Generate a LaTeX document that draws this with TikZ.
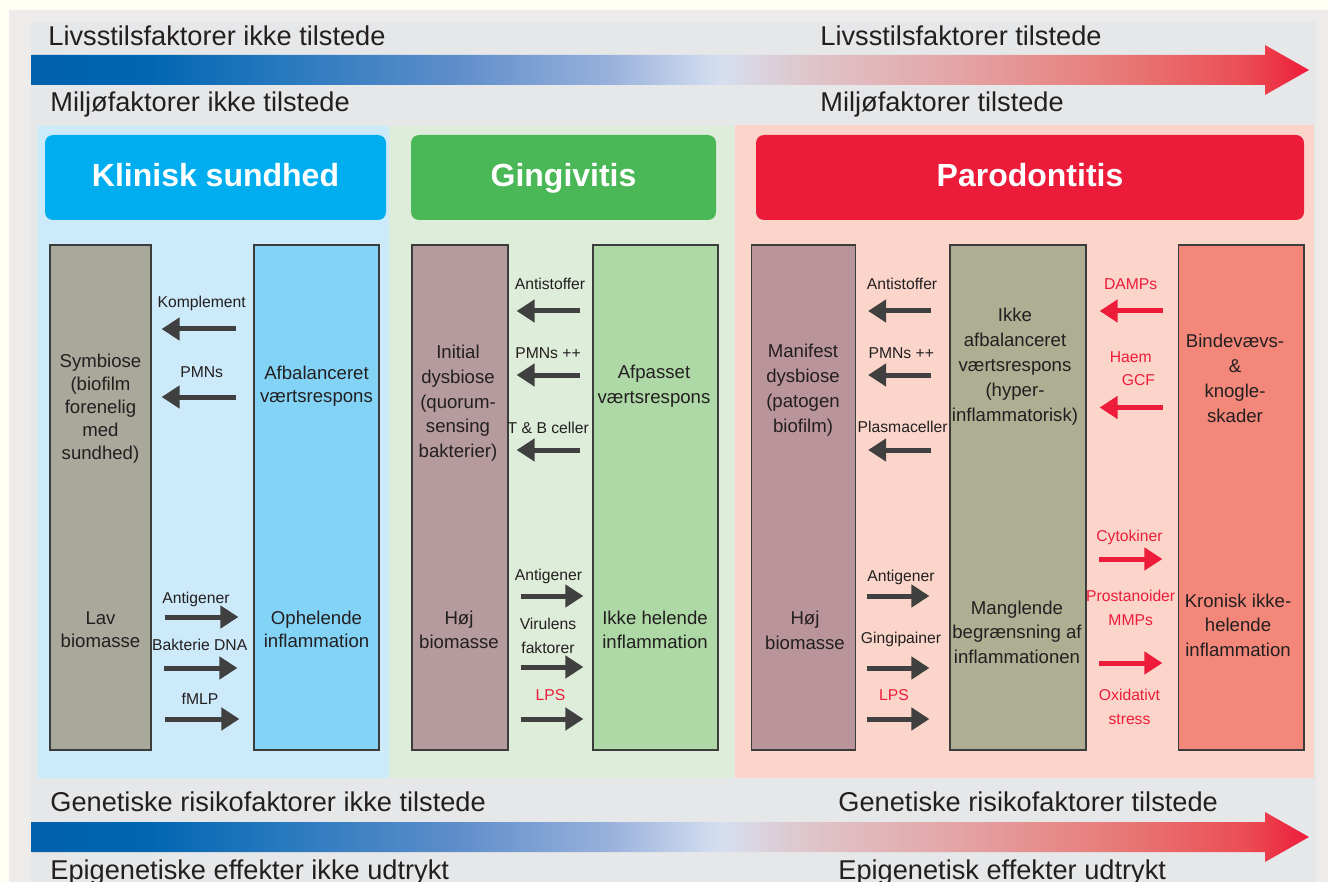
\documentclass[tikz,border=0pt]{standalone}
\usepackage{fontspec}
\setmainfont{Liberation Sans}
\usepackage{tikz}
\usetikzlibrary{arrows.meta}

\definecolor{cream}{HTML}{FFFEF4}
\definecolor{framegray}{HTML}{EEEBEB}
\definecolor{bggray}{HTML}{E6E7E9}
\definecolor{txtdark}{HTML}{231F20}
\definecolor{arrgray}{HTML}{404040}
\definecolor{redtxt}{HTML}{ED1C3A}
\definecolor{boxline}{HTML}{3C3C3C}
\definecolor{klpanel}{HTML}{CCEAF9}
\definecolor{gipanel}{HTML}{DEEDDA}
\definecolor{papanel}{HTML}{FBD5CA}
\definecolor{klhead}{HTML}{00AEEF}
\definecolor{gihead}{HTML}{4BB857}
\definecolor{pahead}{HTML}{ED1B3A}
\definecolor{klleft}{HTML}{A8A89B}
\definecolor{klright}{HTML}{83D3F7}
\definecolor{gileft}{HTML}{B59B9D}
\definecolor{giright}{HTML}{AED8A6}
\definecolor{paleft}{HTML}{BA949B}
\definecolor{pamid}{HTML}{AEAE93}
\definecolor{paright}{HTML}{F3887A}
% colours of the risk bars
\definecolor{sh0}{HTML}{0061AD}
\definecolor{sh1}{HTML}{0066B2}
\definecolor{sh2}{HTML}{2D7BBF}
\definecolor{sh3}{HTML}{5D8DCA}
\definecolor{sh4}{HTML}{97B0DB}
\definecolor{sh5}{HTML}{D5DFF0}
\definecolor{sh6}{HTML}{DEC8CE}
\definecolor{sh7}{HTML}{E4A5A6}
\definecolor{sh8}{HTML}{E77E7C}
\definecolor{sh9}{HTML}{EB4D53}
\definecolor{sh10}{HTML}{ED1C3A}

\pgfdeclarehorizontalshading{riskbar}{100bp}{color(0bp)=(sh0); color(25bp)=(sh0);
  color(29.5bp)=(sh1); color(35.5bp)=(sh2); color(41.5bp)=(sh3); color(47.5bp)=(sh4);
  color(52bp)=(sh5); color(55bp)=(sh6); color(61bp)=(sh7); color(67bp)=(sh8);
  color(72.5bp)=(sh9); color(75bp)=(sh10); color(100bp)=(sh10)}

\tikzset{
	big_txt/.style = {inner sep=0pt, anchor=base west, text=txtdark,
		font=\fontsize{13.6}{16}\selectfont},
	hdr/.style = {rounded corners=4pt, inner sep=0pt, text=white,
		font=\fontsize{16}{19}\selectfont\bfseries, text height=9.5pt, text depth=0pt},
	col_box/.style = {draw=boxline, line width=0.6pt, inner sep=0pt,
		minimum height=252.5pt},
	box_txt/.style = {inner sep=0pt, anchor=base, align=center, text=txtdark,
		font=\fontsize{9.3}{12.4}\selectfont},
	lbl/.style = {inner sep=0pt, anchor=base, align=center, text=txtdark,
		font=\fontsize{7.85}{12}\selectfont},
	red_lbl/.style = {lbl, text=redtxt},
	darr/.style = {draw=arrgray, line width=2.5pt, -{Triangle[length=9pt, width=11pt]}},
	rarr/.style = {darr, draw=redtxt}
}

\begin{document}
\begin{tikzpicture}[x=0.5pt, y=-0.5pt]
\useasboundingbox (0,0) rectangle (1328,882);
\fill[cream] (0,0) rectangle (1328,882);
\fill[framegray] (9,10) rectangle (1328,882);
\fill[bggray] (31,22) rectangle (1316,882);

% risk bars
\shade[shading=riskbar] (31,55) -- (1265,55) -- (1265,45) -- (1309,70)
	-- (1265,95) -- (1265,85) -- (31,85) -- cycle;
\shade[shading=riskbar] (31,822) -- (1265,822) -- (1265,812) -- (1309,837)
	-- (1265,862) -- (1265,852) -- (31,852) -- cycle;

\node[big_txt] (liv0) at (48,46) {Livsstilsfaktorer ikke tilstede};
\node[big_txt] (liv1) at (820,46) {Livsstilsfaktorer tilstede};
\node[big_txt] (mil0) at (50,112) {Miljøfaktorer ikke tilstede};
\node[big_txt] (mil1) at (820,112) {Miljøfaktorer tilstede};
\node[big_txt] (gen0) at (50,811) {Genetiske risikofaktorer ikke tilstede};
\node[big_txt] (gen1) at (838,811) {Genetiske risikofaktorer tilstede};
\node[big_txt] (epi0) at (50,879) {Epigenetiske effekter ikke udtrykt};
\node[big_txt] (epi1) at (838,879) {Epigenetisk effekter udtrykt};

% panels
\fill[klpanel] (38,126) rectangle (389,778);
\fill[gipanel] (389,126) rectangle (734,778);
\fill[papanel] (735,125) rectangle (1314,778);

\node[hdr, fill=klhead, minimum width=170.5pt, minimum height=42.5pt] (kh) at (215.5,177.5) {Klinisk sundhed};
\node[hdr, fill=gihead, minimum width=152.5pt, minimum height=42.5pt] (gh) at (563.5,177.5) {Gingivitis};
\node[hdr, fill=pahead, minimum width=274pt, minimum height=42.5pt] (ph) at (1030,177.5) {Parodontitis};

% Klinisk sundhed (text nodes sit on the baseline of their last line)
\node[col_box, fill=klleft, minimum width=50.5pt] (kl) at (100.5,497.5) {};
\node[col_box, fill=klright, minimum width=62.5pt] (kr) at (316.5,497.5) {};
\node[box_txt, font=\fontsize{9.3}{11.5}\selectfont] (kl_a) at (100.5,459) {Symbiose\\(biofilm\\forenelig\\med\\sundhed)};
\node[box_txt, font=\fontsize{9.3}{11.7}\selectfont] (kr_a) at (316.5,402.4) {Afbalanceret\\værtsrespons};
\node[box_txt, font=\fontsize{9.3}{11.5}\selectfont] (kl_b) at (100.5,647) {Lav\\biomasse};
\node[box_txt, font=\fontsize{9.3}{11.5}\selectfont] (kr_b) at (316.5,647) {Ophelende\\inflammation};

\node[lbl] (k1) at (201.7,307) {Komplement};
\node[lbl] (k2) at (201.7,378) {PMNs};
\node[lbl] (k3) at (196,603) {Antigener};
\node[lbl] (k4) at (199.7,650) {Bakterie DNA};
\node[lbl] (k5) at (200,704) {fMLP};
\draw[darr, shorten <=8.5pt, shorten >=5pt] (kr.west |- 0,329) -- (kl.east |- 0,329);
\draw[darr, shorten <=8.5pt, shorten >=5pt] (kr.west |- 0,397) -- (kl.east |- 0,397);
\draw[darr, shorten <=6.5pt, shorten >=7.5pt] (kl.east |- 0,617) -- (kr.west |- 0,617);
\draw[darr, shorten <=6pt, shorten >=8pt] (kl.east |- 0,668) -- (kr.west |- 0,668);
\draw[darr, shorten <=6.5pt, shorten >=7pt] (kl.east |- 0,719) -- (kr.west |- 0,719);

% Gingivitis
\node[col_box, fill=gileft, minimum width=48pt] (gl) at (460,497.5) {};
\node[col_box, fill=giright, minimum width=62.5pt] (gr) at (655.5,497.5) {};
\node[box_txt] (gl_a) at (458,457.7) {Initial\\dysbiose\\(quorum-\\sensing\\bakterier)};
\node[box_txt] (gr_a) at (654,403.8) {Afpasset\\værtsrespons};
\node[box_txt] (gl_b) at (459,648.8) {Høj\\biomasse};
\node[box_txt] (gr_b) at (655,648.8) {Ikke helende\\inflammation};

\node[lbl] (g1) at (550,290) {Antistoffer};
\node[lbl] (g2) at (548,358.5) {PMNs ++};
\node[lbl] (g3) at (548.3,433) {T \& B celler};
\node[lbl] (g4) at (548.5,580.5) {Antigener};
\node[lbl] (g5) at (548,653.5) {Virulens\\faktorer};
\node[red_lbl] (g6) at (550.5,700) {LPS};
\draw[darr, shorten <=6pt, shorten >=4pt] (gr.west |- 0,311) -- (gl.east |- 0,311);
\draw[darr, shorten <=6pt, shorten >=4pt] (gr.west |- 0,375) -- (gl.east |- 0,375);
\draw[darr, shorten <=6pt, shorten >=4pt] (gr.west |- 0,450) -- (gl.east |- 0,450);
\draw[darr, shorten <=6pt, shorten >=4.5pt] (gl.east |- 0,596) -- (gr.west |- 0,596);
\draw[darr, shorten <=6pt, shorten >=4.5pt] (gl.east |- 0,667) -- (gr.west |- 0,667);
\draw[darr, shorten <=6pt, shorten >=4.5pt] (gl.east |- 0,719) -- (gr.west |- 0,719);

% Parodontitis
\node[col_box, fill=paleft, minimum width=52pt] (pl) at (803.5,497.5) {};
\node[col_box, fill=pamid, minimum width=68pt] (pm) at (1018,497.5) {};
\node[col_box, fill=paright, minimum width=62.75pt] (pr) at (1241.25,497.5) {};
\node[box_txt] (pl_a) at (803,432) {Manifest\\dysbiose\\(patogen\\biofilm)};
\node[box_txt] (pm_a) at (1015,421) {Ikke\\afbalanceret\\værtsrespons\\(hyper-\\inflammatorisk)};
\node[box_txt] (pr_a) at (1235,422) {Bindevævs-\\\&\\knogle-\\skader};
\node[box_txt] (pl_b) at (805,649) {Høj\\biomasse};
\node[box_txt] (pm_b) at (1017,663.6) {Manglende\\begrænsning af\\inflammationen};
\node[box_txt] (pr_b) at (1238,656.6) {Kronisk ikke-\\helende\\inflammation};

\node[lbl] (p1) at (902,290) {Antistoffer};
\node[lbl] (p2) at (901.3,358.5) {PMNs ++};
\node[lbl] (p3) at (902.6,432) {Plasmaceller};
\node[lbl] (p4) at (901,581) {Antigener};
\node[lbl] (p5) at (901,643.4) {Gingipainer};
\node[red_lbl] (p6) at (894,700) {LPS};
\draw[darr, shorten <=9pt, shorten >=6pt] (pm.west |- 0,311) -- (pl.east |- 0,311);
\draw[darr, shorten <=9pt, shorten >=6pt] (pm.west |- 0,375) -- (pl.east |- 0,375);
\draw[darr, shorten <=9pt, shorten >=6pt] (pm.west |- 0,450) -- (pl.east |- 0,450);
\draw[darr, shorten <=5.25pt, shorten >=10pt] (pl.east |- 0,596) -- (pm.west |- 0,596);
\draw[darr, shorten <=5.25pt, shorten >=10pt] (pl.east |- 0,668) -- (pm.west |- 0,668);
\draw[darr, shorten <=5.25pt, shorten >=10pt] (pl.east |- 0,719) -- (pm.west |- 0,719);

\node[red_lbl] (r1) at (1130.7,290) {DAMPs};
\node[red_lbl] (r2) at (1130.7,386) {Haem\\\hspace*{7.8pt}GCF};
\node[red_lbl] (r3) at (1129.5,541.5) {Cytokiner};
\node[red_lbl] (r4) at (1130.7,625) {Prostanoider\\MMPs};
\node[red_lbl] (r5) at (1129.5,724) {Oxidativt\\stress};
\draw[rarr, shorten <=7.5pt, shorten >=6.5pt] (pr.west |- 0,311) -- (pm.east |- 0,311);
\draw[rarr, shorten <=7.5pt, shorten >=6.5pt] (pr.west |- 0,407.5) -- (pm.east |- 0,407.5);
\draw[rarr, shorten <=6.25pt, shorten >=7.75pt] (pm.east |- 0,559) -- (pr.west |- 0,559);
\draw[rarr, shorten <=6.25pt, shorten >=7.75pt] (pm.east |- 0,663) -- (pr.west |- 0,663);
\end{tikzpicture}
\end{document}
